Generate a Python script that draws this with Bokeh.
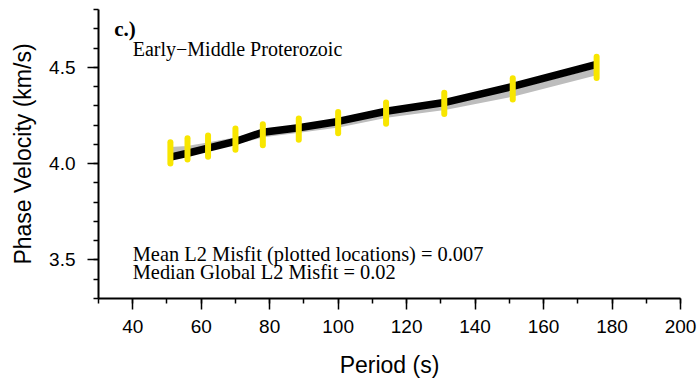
from bokeh.plotting import figure
from bokeh.models import Label, SingleIntervalTicker
from bokeh.embed import file_html
from bokeh.resources import INLINE

# Dispersion curve: observed phase velocities with uncertainties and two model predictions
periods = [51, 56, 62, 70, 78, 88.5, 100, 114, 131, 151, 175.5]
observed = [4.056, 4.077, 4.091, 4.127, 4.150, 4.179, 4.213, 4.262, 4.313, 4.388, 4.500]
obs_err = [0.055, 0.055, 0.055, 0.055, 0.055, 0.055, 0.055, 0.055, 0.055, 0.055, 0.055]
model_best = [4.034, 4.054, 4.080, 4.115, 4.163, 4.186, 4.219, 4.272, 4.317, 4.401, 4.515]
model_ref = [4.068, 4.073, 4.092, 4.118, 4.155, 4.178, 4.206, 4.256, 4.296, 4.366, 4.478]

panel_tag = "c.)"
region_name = "Early\u2212Middle Proterozoic"
misfit_lines = [
    "Mean L2 Misfit (plotted locations) = 0.007",
    "Median Global L2 Misfit = 0.02",
]

SANS = "Liberation Sans"
SERIF = "Liberation Serif"

p = figure(
    width=700, height=381,
    x_range=(30, 200), y_range=(3.3, 4.8),
    output_backend="svg", toolbar_location=None,
    min_border_left=98, min_border_right=20,
    min_border_top=9, min_border_bottom=83,
)
p.outline_line_color = None
p.xgrid.visible = False
p.ygrid.visible = False
p.background_fill_color = "white"
p.border_fill_color = "white"

# curves
p.line(periods, model_ref, line_color="#bdbdbd", line_width=7, line_join="round")
p.line(periods, model_best, line_color="black", line_width=7.5, line_join="round")
lo = [v - e for v, e in zip(observed, obs_err)]
hi = [v + e for v, e in zip(observed, obs_err)]
p.segment(x0=periods, y0=lo, x1=periods, y1=hi,
          line_color="#f8e600", line_width=6, line_cap="round")

# axes
p.xaxis.ticker = SingleIntervalTicker(interval=20, num_minor_ticks=2)
p.yaxis.ticker = SingleIntervalTicker(interval=0.5, num_minor_ticks=5)
for ax in (p.xaxis[0], p.yaxis[0]):
    ax.axis_line_width = 2
    ax.axis_line_color = "black"
    ax.major_tick_out = 11
    ax.major_tick_in = 0
    ax.minor_tick_out = 5
    ax.minor_tick_in = 0
    ax.major_tick_line_width = 1.5
    ax.minor_tick_line_width = 1.5
    ax.major_tick_line_color = "black"
    ax.minor_tick_line_color = "black"
    ax.major_label_text_font = SANS
    ax.major_label_text_font_size = "19px"
    ax.major_label_text_color = "black"
    ax.axis_label_text_font = SANS
    ax.axis_label_text_font_size = "23px"
    ax.axis_label_text_font_style = "normal"
    ax.axis_label_text_color = "black"

p.xaxis.axis_label = "Period (s)"
p.yaxis.axis_label = "Phase Velocity (km/s)"
p.xaxis.major_label_standoff = 10
p.yaxis.major_label_standoff = 12
p.xaxis.axis_label_standoff = 16
p.yaxis.axis_label_standoff = 10
p.yaxis.major_label_overrides = {3.5: "3.5", 4: "4.0", 4.5: "4.5"}

# annotations
p.add_layout(Label(x=34.6, y=4.70, text=panel_tag, text_font=SERIF,
                   text_font_size="21px", text_font_style="bold",
                   text_color="black", text_baseline="alphabetic"))
p.add_layout(Label(x=40, y=4.595, text=region_name, text_font=SERIF,
                   text_font_size="20px", text_color="black",
                   text_baseline="alphabetic"))
for txt, yy in zip(misfit_lines, [3.532, 3.436]):
    p.add_layout(Label(x=40, y=yy, text=txt, text_font=SERIF,
                       text_font_size="20.4px", text_color="black",
                       text_baseline="alphabetic"))

open("out.html", "w").write(file_html(p, INLINE))
